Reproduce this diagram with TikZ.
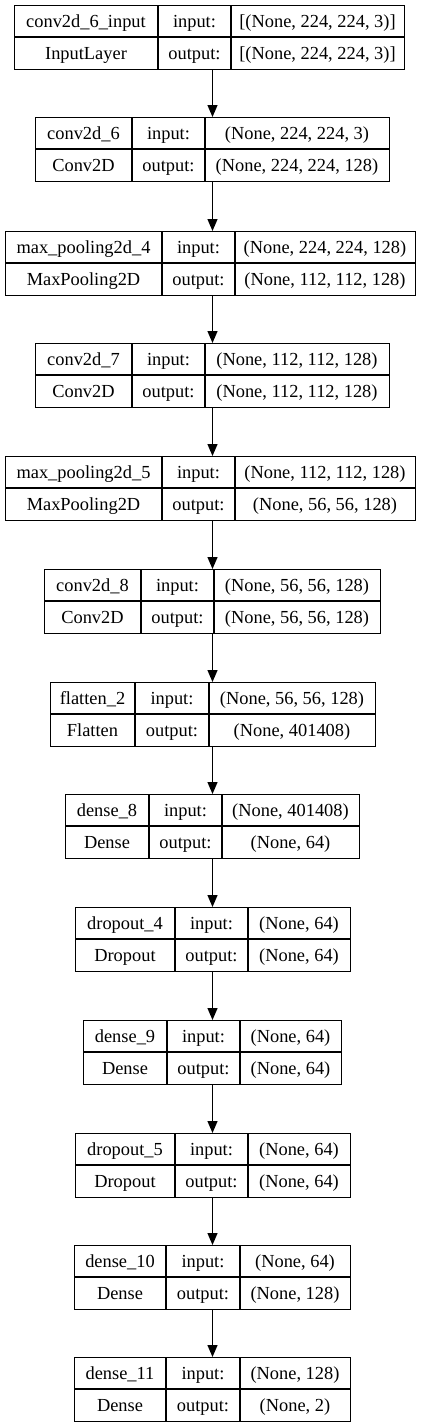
\documentclass[tikz,border=0pt]{standalone}
\usepackage{fontspec}
\setmainfont{Liberation Serif}
\usetikzlibrary{arrows.meta}
\tikzset{
  layerbox/.style={draw, line width=1.3pt, inner sep=0pt, anchor=north west},
  cell/.style={font=\fontsize{18.4}{20}\selectfont, inner sep=0pt, anchor=base},
  sep/.style={line width=1.3pt},
  arr/.style={line width=1.3pt, -{Triangle[length=12pt,width=10pt]}}
}
\begin{document}
\begin{tikzpicture}[x=1pt,y=-1pt]
\useasboundingbox (0,0) rectangle (425,1427);
\coordinate (ax) at (212.5,0);
\foreach \n/\t/\l/\a/\b/\r/\nm/\ty/\ii/\oo in {
 L1/5/14/158/231/404/{conv2d\_6\_input}/{InputLayer}/{[(None, 224, 224, 3)]}/{[(None, 224, 224, 3)]},
 L2/117/35/132/205/389/{conv2d\_6}/{Conv2D}/{(None, 224, 224, 3)}/{(None, 224, 224, 128)},
 L3/231/5/162/235/415/{max\_pooling2d\_4}/{MaxPooling2D}/{(None, 224, 224, 128)}/{(None, 112, 112, 128)},
 L4/343/35/132/205/389/{conv2d\_7}/{Conv2D}/{(None, 112, 112, 128)}/{(None, 112, 112, 128)},
 L5/456/5/162/235/415/{max\_pooling2d\_5}/{MaxPooling2D}/{(None, 112, 112, 128)}/{(None, 56, 56, 128)},
 L6/569/44/141/214/380/{conv2d\_8}/{Conv2D}/{(None, 56, 56, 128)}/{(None, 56, 56, 128)},
 L7/682/50/135/209/375/{flatten\_2}/{Flatten}/{(None, 56, 56, 128)}/{(None, 401408)},
 L8/794/65/149/222/359/{dense\_8}/{Dense}/{(None, 401408)}/{(None, 64)},
 L9/907/75/175/248/350/{dropout\_4}/{Dropout}/{(None, 64)}/{(None, 64)},
 L10/1020/83/167/240/341/{dense\_9}/{Dense}/{(None, 64)}/{(None, 64)},
 L11/1133/75/175/248/350/{dropout\_5}/{Dropout}/{(None, 64)}/{(None, 64)},
 L12/1245/74/166/240/350/{dense\_10}/{Dense}/{(None, 64)}/{(None, 128)},
 L13/1357/74/166/240/350/{dense\_11}/{Dense}/{(None, 128)}/{(None, 2)}
}{
 \pgfmathsetmacro{\w}{\r-\l}
 \node[layerbox, minimum width=\w pt, minimum height=64pt] (\n) at (\l,\t) {};
 \draw[sep] (\l,\t+32) -- (\r,\t+32);
 \draw[sep] (\a,\t) -- (\a,\t+64);
 \draw[sep] (\b,\t) -- (\b,\t+64);
 \node[cell] (\n nm) at ({(\l+\a)/2},\t+22) {\nm};
 \node[cell] (\n ty) at ({(\l+\a)/2},\t+54) {\ty};
 \node[cell] (\n il) at ({(\a+\b)/2},\t+22) {input:};
 \node[cell] (\n ol) at ({(\a+\b)/2},\t+54) {output:};
 \node[cell] (\n ii) at ({(\b+\r)/2},\t+22) {\ii};
 \node[cell] (\n oo) at ({(\b+\r)/2},\t+54) {\oo};
}
\foreach \p/\q in {L1/L2,L2/L3,L3/L4,L4/L5,L5/L6,L6/L7,L7/L8,L8/L9,L9/L10,L10/L11,L11/L12,L12/L13}{
 \draw[arr] (\p.south -| ax) -- (\q.north -| ax);
}
\end{tikzpicture}
\end{document}
